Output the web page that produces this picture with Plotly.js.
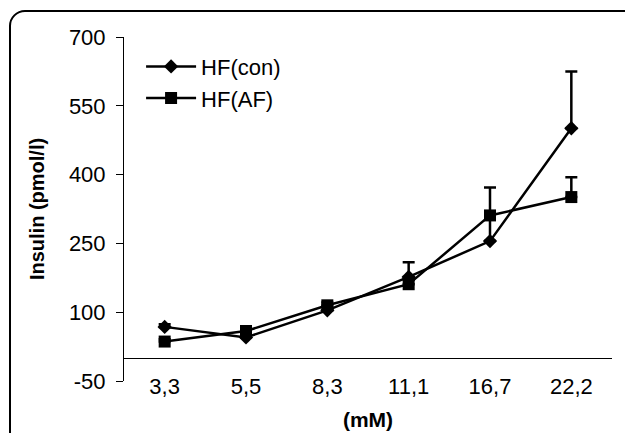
<!DOCTYPE html>
<html>
<head>
<meta charset="utf-8">
<script src="https://cdn.plot.ly/plotly-3.0.1.min.js"></script>
<style>
  html, body { margin: 0; padding: 0; background: #fff; }
  #wrap { position: relative; width: 625px; height: 433px; overflow: hidden; }
  #frame { position: absolute; left: 9px; top: 10px; width: 700px; height: 600px;
           border: 2.5px solid #000; border-radius: 16px; box-sizing: border-box; }
  #chart { position: absolute; left: 0; top: 0; width: 625px; height: 433px; }
</style>
</head>
<body>
<div id="wrap">
  <div id="frame"></div>
  <div id="chart"></div>
</div>
<script>
const categories = ["3,3", "5,5", "8,3", "11,1", "16,7", "22,2"];
const hfCon = [68, 45, 104, 177, 255, 501];
const hfConErr = [6, 6, 8, 32, 55, 124];
const hfAF = [36, 59, 115, 161, 311, 351];
const hfAFErr = [5, 6, 6, 10, 61, 43];
const yTicks = [-50, 100, 250, 400, 550, 700];

const font = "Arial, 'Liberation Sans', sans-serif";

function series(name, y, err, symbol, size) {
  return {
    type: "scatter", mode: "lines+markers", name: name,
    x: categories, y: y,
    line: { color: "#000", width: 2.5 },
    marker: { color: "#000", symbol: symbol, size: size },
    error_y: { type: "data", symmetric: false, array: err,
               arrayminus: err.map(() => 0), color: "#000", thickness: 2.5, width: 6 }
  };
}

const data = [
  series("HF(con)", hfCon, hfConErr, "diamond", 11),
  series("HF(AF)", hfAF, hfAFErr, "square", 12)
];

const layout = {
  width: 625, height: 433,
  margin: { l: 124, r: 13, t: 37, b: 52, pad: 0 },
  paper_bgcolor: "rgba(0,0,0,0)",
  plot_bgcolor: "rgba(0,0,0,0)",
  font: { family: font, color: "#000", size: 21 },
  showlegend: true,
  legend: { x: 0.035, y: 0.975, xanchor: "left", yanchor: "top",
            bgcolor: "rgba(0,0,0,0)", font: { size: 22, family: font },
            itemwidth: 50, tracegroupgap: 0 },
  xaxis: {
    type: "category", range: [-0.5, 5.5],
    showgrid: false, showline: false, zeroline: false, ticks: "",
    tickfont: { size: 22, family: font },
    ticklabelstandoff: -10,
    title: { text: "<b>(mM)</b>", font: { size: 21, family: font }, standoff: 14 },
    automargin: false
  },
  yaxis: {
    range: [-50, 700], tickvals: yTicks, ticktext: yTicks.map(String),
    showgrid: false, showline: true, linecolor: "#000", linewidth: 1,
    ticks: "outside", ticklen: 7, tickcolor: "#000", tickwidth: 1,
    zeroline: true, zerolinecolor: "#000", zerolinewidth: 1,
    tickfont: { size: 22, family: font },
    ticklabelstandoff: 6,
    title: { text: "<b>Insulin (pmol/l)</b>", font: { size: 20, family: font }, standoff: 18 },
    automargin: false
  }
};

Plotly.newPlot("chart", data, layout, { staticPlot: true, displayModeBar: false });
</script>
</body>
</html>
